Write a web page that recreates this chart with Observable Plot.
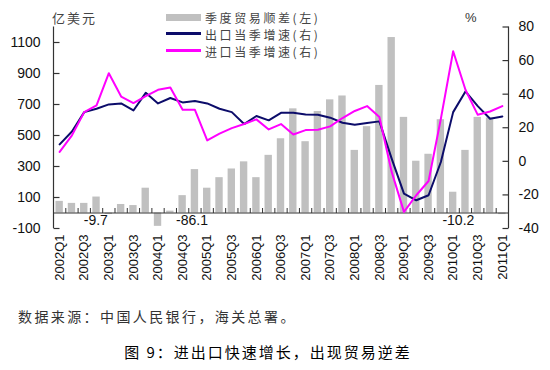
<!DOCTYPE html>
<html><head><meta charset="utf-8">
<script src="https://cdn.jsdelivr.net/npm/d3@7"></script>
<script src="https://cdn.jsdelivr.net/npm/@observablehq/plot@0.6"></script>
<style>
body{margin:0;background:#fff;}
#wrap{position:relative;width:550px;height:370px;overflow:hidden;background:#fff;}
#chart{position:absolute;left:0;top:0;}
.t{position:absolute;white-space:nowrap;font-family:"Noto Sans CJK SC",sans-serif;color:#333;line-height:1;}
.lg{color:#444;font-size:12px;letter-spacing:2.6px;}
.sw{position:absolute;}
</style></head>
<body>
<div id="wrap">
  <div id="chart"></div>
  <div class="t" style="left:52px;top:11px;font-size:13px;letter-spacing:2px;color:#444;">亿美元</div>
  <div class="t" style="left:465px;top:11px;font-size:13px;font-family:'Liberation Sans',Arial,sans-serif;">%</div>
  <div class="sw" style="left:166px;top:14px;width:35px;height:7px;background:#c0c0c0;"></div>
  <div class="sw" style="left:166px;top:32px;width:35px;height:3px;background:#0c0c6a;"></div>
  <div class="sw" style="left:166px;top:49px;width:35px;height:3px;background:#ff00ff;"></div>
  <div class="t lg" style="left:205px;top:12px;">季度贸易顺差(左)</div>
  <div class="t lg" style="left:205px;top:29px;">出口当季增速(右)</div>
  <div class="t lg" style="left:205px;top:46px;">进口当季增速(右)</div>
  <div class="t" style="left:18px;top:309px;font-size:14px;letter-spacing:2.4px;">数据来源：中国人民银行，海关总署。</div>
  <div class="t" style="left:0;width:536px;text-align:center;top:344px;font-size:15px;letter-spacing:2px;color:#000;">图 9：进出口快速增长，出现贸易逆差</div>
</div>
<script>
const quarters = ["2002Q1","2002Q2","2002Q3","2002Q4","2003Q1","2003Q2","2003Q3","2003Q4",
  "2004Q1","2004Q2","2004Q3","2004Q4","2005Q1","2005Q2","2005Q3","2005Q4",
  "2006Q1","2006Q2","2006Q3","2006Q4","2007Q1","2007Q2","2007Q3","2007Q4",
  "2008Q1","2008Q2","2008Q3","2008Q4","2009Q1","2009Q2","2009Q3","2009Q4",
  "2010Q1","2010Q2","2010Q3","2010Q4","2011Q1"];
// 季度贸易顺差 (亿美元, left axis)
const surplus = [75, 62, 62, 103, -9.7, 55, 48, 160,
  -86.1, 12, 112, 280, 160, 228, 284, 330,
  228, 372, 479, 672, 460, 655, 730, 755,
  404, 557, 823, 1132, 617, 334, 379, 602,
  134, 404, 617, 613, -10.2];
// 出口当季增速 (%, right axis)
const exportGrowth = [10.1, 17.8, 29.3, 31.3, 33.9, 34.5, 30.3, 40.8,
  34.5, 37.7, 35.1, 35.9, 34.5, 31.3, 29.3, 22.2,
  27.0, 24.4, 28.9, 28.9, 27.9, 27.7, 26.0, 23.0,
  21.8, 22.8, 23.8, 1.6, -19.2, -23.2, -20.2, -0.4,
  29.3, 41.6, 32.9, 25.4, 26.7];
// 进口当季增速 (%, right axis)
const importGrowth = [5.6, 15.5, 29.3, 33.3, 52.5, 38.6, 34.7, 38.8,
  42.6, 44.0, 30.7, 30.7, 12.5, 16.5, 19.8, 22.2,
  25.0, 19.0, 22.2, 16.0, 18.6, 18.8, 20.8, 25.8,
  30.0, 32.9, 26.4, -6.3, -30.1, -20.2, -11.7, 25.4,
  65.6, 42.6, 27.7, 29.7, 32.9];
const leftDomain = [-100, 1200];
const rightDomain = [-40, 80];
const leftTicks = [-100, 100, 300, 500, 700, 900, 1100];
const rightTicks = [-40, -20, 0, 20, 40, 60, 80];

const toLeft = v => leftDomain[0] + (v - rightDomain[0]) * (leftDomain[1] - leftDomain[0]) / (rightDomain[1] - rightDomain[0]);
const fromLeft = v => rightDomain[0] + (v - leftDomain[0]) * (rightDomain[1] - rightDomain[0]) / (leftDomain[1] - leftDomain[0]);

const idx = d3.range(quarters.length);
const xMin = -0.5, xMax = quarters.length - 0.5;
const boundaries = d3.range(quarters.length - 1).map(i => i + 0.5);
const labelIdx = idx.filter(i => i % 2 === 0);

const sym = (dx, dy) => ({draw(ctx){ ctx.moveTo(0,0); ctx.lineTo(dx,dy); }});
const axisColor = "#333";
const font = "'Liberation Sans', Arial, sans-serif";
const negLabel = (q, dx) => Plot.text([quarters.indexOf(q)], {
  x: i => i, frameAnchor: "bottom", dy: -4, dx, text: i => String(surplus[i]),
  fontSize: 14, fill: "#111"
});

const chart = Plot.plot({
  width: 550, height: 290,
  marginTop: 26.5, marginBottom: 62, marginLeft: 53, marginRight: 42,
  style: {fontFamily: font, color: "#111", background: "transparent"},
  x: {type: "linear", domain: [xMin, xMax]},
  y: {domain: leftDomain},
  marks: [
    Plot.rectY(idx, {x1: i => i - 0.3, x2: i => i + 0.3, y1: 0, y2: i => surplus[i], fill: "#c0c0c0"}),
    Plot.ruleY([0], {stroke: axisColor, strokeWidth: 1}),
    Plot.dot(boundaries, {x: d => d, y: 0, symbol: sym(0, -5), fill: "none", stroke: axisColor, strokeWidth: 1}),
    Plot.ruleX([xMin], {stroke: axisColor, strokeWidth: 1.2}),
    Plot.ruleX([xMax], {stroke: axisColor, strokeWidth: 1.2}),
    Plot.dot(leftTicks, {x: xMin, y: d => d, symbol: sym(6, 0), fill: "none", stroke: axisColor, strokeWidth: 1.2}),
    Plot.dot(rightTicks.map(toLeft), {x: xMax, y: d => d, symbol: sym(-6, 0), fill: "none", stroke: axisColor, strokeWidth: 1.2}),
    Plot.axisY(leftTicks, {anchor: "left", tickSize: 0, tickPadding: 13, fontSize: 14,
      tickFormat: d => String(d)}),
    Plot.axisY(rightTicks.map(toLeft), {anchor: "right", tickSize: 0, tickPadding: 10, fontSize: 14,
      tickFormat: d => String(Math.round(fromLeft(d)))}),
    Plot.axisX(labelIdx, {anchor: "bottom", tickSize: 0, tickPadding: 6, tickRotate: -90, fontSize: 13,
      tickFormat: i => quarters[i]}),
    Plot.line(idx, {x: i => i, y: i => toLeft(exportGrowth[i]), stroke: "#0c0c6a", strokeWidth: 2}),
    Plot.line(idx, {x: i => i, y: i => toLeft(importGrowth[i]), stroke: "#ff00ff", strokeWidth: 2}),
    negLabel("2003Q1", -13),
    negLabel("2004Q1", 34),
    negLabel("2011Q1", -44)
  ]
});
document.getElementById("chart").appendChild(chart);
</script>
</body></html>
